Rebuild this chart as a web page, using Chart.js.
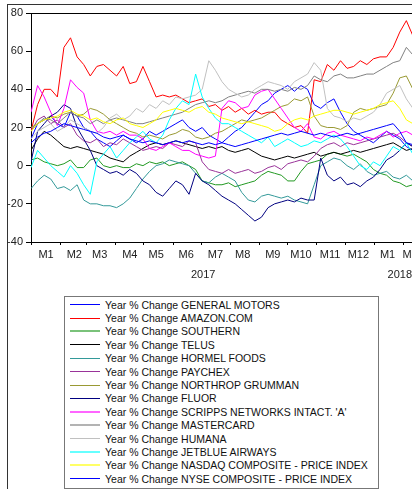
<!DOCTYPE html>
<html>
<head>
<meta charset="utf-8">
<title>Year % Change</title>
<script src="https://cdn.jsdelivr.net/npm/chart.js@4.4.0/dist/chart.umd.min.js"></script>
<style>
    html, body { margin: 0; padding: 0; background: #fff; }
    body { width: 412px; height: 489px; position: relative; overflow: hidden; font-family: "Liberation Sans", Arial, sans-serif; }
    #frame { position: absolute; left: 7px; top: 4px; width: 420px; height: 500px; border-left: 1px solid #333; border-top: 1px solid #333; }
    #chartBox { position: absolute; left: 0; top: 0; width: 412px; height: 290px; }
    #legend { position: absolute; left: 64px; top: 296px; width: 313px; height: 190px; padding-top: 1px; border: 1px solid #777; }
    .row { display: flex; align-items: center; height: 13.4px; font-size: 10.5px; color: #111; white-space: nowrap; }
    .swatch { width: 30px; height: 1px; margin: 0 5px; }
    .swatch.wide { height: 2px; opacity: 0.6; }
</style>
</head>
<body>
<div id="frame"></div>
<div id="chartBox"><canvas id="lineChart"></canvas></div>
<div id="legend"></div>

<script>
// weekly samples, day 0 = start of January 2017
const days = Array.from({ length: 59 }, (_, i) => i * 7);

const monthStarts = [0, 31, 59, 90, 120, 151, 181, 212, 243, 273, 304, 334, 365, 396];
const monthMids = [16, 46, 73, 105, 133, 165, 196, 225, 257, 287, 318, 348, 379, 403];
const monthLabels = ['M1', 'M2', 'M3', 'M4', 'M5', 'M6', 'M7', 'M8', 'M9', 'M10', 'M11', 'M12', 'M1', 'M2'];
const yearMids = [183, 392];
const yearLabels = ['2017', '2018'];

const seriesNames = [
    'Year % Change GENERAL MOTORS',
    'Year % Change AMAZON.COM',
    'Year % Change SOUTHERN',
    'Year % Change TELUS',
    'Year % Change HORMEL FOODS',
    'Year % Change PAYCHEX',
    'Year % Change NORTHROP GRUMMAN',
    'Year % Change FLUOR',
    "Year % Change SCRIPPS NETWORKS INTACT. 'A'",
    'Year % Change MASTERCARD',
    'Year % Change HUMANA',
    'Year % Change JETBLUE AIRWAYS',
    'Year % Change NASDAQ COMPOSITE - PRICE INDEX',
    'Year % Change NYSE COMPOSITE - PRICE INDEX'
];
const seriesColors = ['#0000ff', '#ff0000', '#229922', '#000000', '#339999', '#993399', '#999933',
    '#000080', '#ff00ff', '#808080', '#c0c0c0', '#00ffff', '#ffff00', '#0000ff'];

const generalMotors = [14, 22, 24, 26, 22, 20, 28, 26, 20, 18, 14, 12, 10, 13, 16, 14, 12, 14, 18, 16,
    18, 20, 22, 24, 20, 18, 20, 16, 14, 12, 15, 18, 20, 24, 28, 32, 34, 38, 40, 42,
    39, 42, 40, 32, 30, 33, 35, 28, 22, 18, 16, 14, 12, 15, 18, 16, 14, 10, 8];
const amazon = [18, 32, 40, 40, 36, 62, 67, 57, 53, 47, 52, 53, 50, 47, 52, 43, 44, 52, 44, 36,
    37, 36, 37, 35, 33, 34, 35, 31, 32, 29, 31, 28, 30, 27, 29, 27, 28, 28, 24, 22,
    20, 21, 17, 45, 44, 53, 50, 55, 51, 52, 55, 53, 56, 57, 57, 62, 70, 76, 68];
const southern = [3, 4, 2, 1, 0, 1, 3, -1, -1, 3, 4, 0, -1, 0, -1, -1, 1, 0, 2, 1,
    2, 0, 1, 2, 0, -2, -8, -9, -10, -10, -9, -11, -10, -9, -8, -5, -3, -4, -5, -8,
    -8, -3, 1, 2, 3, 6, 7, 6, 5, 6, 4, 2, -2, -4, -5, -8, -9, -11, -10];
const telus = [8, 14, 18, 16, 13, 10, 9, 10, 9, 8, 7, 6, 4, 3, 2, 5, 7, 9, 11, 12,
    11, 12, 13, 12, 11, 10, 9, 10, 9, 10, 8, 7, 8, 9, 7, 5, 4, 3, 4, 5,
    4, 5, 6, 7, 5, 6, 7, 6, 7, 8, 7, 8, 9, 10, 11, 12, 10, 8, 9];
const hormel = [-12, -8, -5, -7, -12, -11, -13, -10, -18, -20, -20, -21, -21, -22, -20, -17, -12, -7, -3, 0,
    1, 3, 2, 1, 0, -4, -8, -9, -6, -4, -6, -8, -14, -18, -19, -16, -15, -16, -17, -16,
    -18, -19, -20, -10, 0, 2, 4, 3, 0, -2, 1, -3, -5, -4, -3, -6, -7, -5, -8];
const paychex = [18, 24, 26, 22, 24, 20, 22, 16, 13, 12, 14, 10, 12, 11, 14, 12, 10, 8, 9, 10,
    9, 12, 11, 10, 13, 12, 2, -2, -3, -4, -2, -4, -3, -2, -4, -3, -1, 0, -2, 1,
    2, 3, 2, 5, 9, 11, 12, 10, 12, 11, 12, 13, 14, 15, 16, 17, 15, 12, 10];
const northrop = [20, 22, 24, 26, 25, 27, 28, 26, 27, 30, 29, 27, 24, 22, 20, 18, 17, 15, 16, 15,
    14, 16, 17, 19, 18, 15, 14, 15, 17, 18, 20, 22, 24, 23, 24, 25, 27, 29, 31, 32,
    35, 34, 36, 26, 21, 20, 20, 19, 21, 28, 30, 29, 30, 31, 32, 38, 46, 47, 40];
const fluor = [2, 18, 22, 26, 28, 32, 30, 20, 14, 8, 0, -2, -4, -3, -5, -2, -4, -8, -10, -14,
    -16, -12, -8, -10, -15, -4, -8, -10, -13, -16, -18, -20, -23, -26, -29, -27, -22, -20, -19, -18,
    -19, -17, -18, -18, 4, -5, -8, -6, -10, -9, -11, -8, -6, -2, 3, 5, 8, 12, 10];
const scripps = [28, 42, 36, 28, 21, 30, 45, 41, 38, 24, 18, 17, 18, 16, 18, 16, 16, 14, 9, 8,
    10, 12, 10, 8, 8, 6, 5, 4, 5, 30, 34, 33, 30, 31, 37, 39, 40, 35, 30, 25,
    20, 18, 22, 15, 14, 17, 18, 16, 15, 14, 13, 15, 14, 16, 18, 15, 17, 18, 16];
const mastercard = [18, 22, 25, 24, 22, 25, 28, 26, 25, 22, 24, 22, 24, 25, 24, 23, 22, 22, 23, 24,
    25, 26, 27, 28, 30, 32, 33, 34, 33, 34, 36, 37, 38, 39, 38, 40, 40, 39, 40, 39,
    41, 40, 42, 47, 45, 44, 47, 48, 46, 46, 47, 48, 48, 50, 52, 54, 55, 62, 58];
const humana = [14, 18, 20, 22, 18, 20, 24, 22, 20, 18, 17, 20, 25, 27, 24, 26, 30, 28, 32, 30,
    34, 32, 36, 35, 36, 37, 40, 55, 50, 44, 40, 38, 36, 37, 40, 42, 44, 43, 42, 40,
    44, 46, 48, 54, 50, 30, 26, 25, 23, 25, 24, 26, 28, 32, 38, 40, 42, 35, 30];
const jetblue = [-1, 8, 4, 0, -3, -6, 0, -4, -10, -15, 2, 6, 10, 4, 8, 12, 15, 18, 14, 12,
    16, 24, 30, 34, 32, 48, 36, 30, 25, 22, 22, 20, 18, 16, 14, 12, 15, 10, 12, 14,
    12, 10, 11, 13, 12, 14, 16, 14, 10, 5, 0, -2, 2, 0, 5, 10, 8, 12, 6];
const nasdaq = [18, 22, 24, 25, 26, 28, 29, 27, 26, 24, 25, 23, 22, 24, 25, 22, 21, 20, 22, 24,
    28, 29, 30, 29, 28, 30, 31, 28, 27, 25, 24, 23, 22, 23, 22, 21, 20, 18, 19, 22,
    24, 25, 24, 26, 27, 28, 29, 29, 28, 27, 28, 29, 30, 32, 33, 34, 30, 24, 22];
const nyse = [12, 15, 17, 18, 20, 22, 21, 20, 19, 18, 17, 15, 14, 15, 16, 14, 13, 12, 13, 12,
    11, 12, 13, 12, 13, 12, 11, 12, 11, 12, 11, 10, 11, 12, 13, 14, 15, 16, 17, 16,
    17, 18, 17, 16, 17, 16, 15, 16, 17, 16, 17, 18, 19, 20, 21, 22, 18, 12, 11];

const seriesValues = [generalMotors, amazon, southern, telus, hormel, paychex, northrop,
    fluor, scripps, mastercard, humana, jetblue, nasdaq, nyse];

const X_MAX = 405;
const AXIS_FONT = { family: '"Liberation Sans", Arial, sans-serif', size: 11 };
// pale colours show as thicker, softer strokes in the legend
const WIDE_SWATCH = [2, 8, 9, 11, 12];

function toPoints(values) {
    return values.map((v, i) => ({ x: days[i], y: v }));
}

function buildLegend() {
    let html = '';
    seriesNames.forEach((name, i) => {
        const cls = WIDE_SWATCH.includes(i) ? 'swatch wide' : 'swatch';
        html += `<div class="row"><span class="${cls}" style="background:${seriesColors[i]}"></span><span>${name}</span></div>`;
    });
    document.getElementById('legend').innerHTML = html;
}

function noPad(scale) {
    scale.paddingLeft = 0;
    scale.paddingRight = 0;
    scale.paddingTop = 0;
    scale.paddingBottom = 0;
}

function buildChart() {
    const datasets = seriesValues.map((values, i) => ({
        label: seriesNames[i],
        data: toPoints(values),
        borderColor: seriesColors[i],
        borderWidth: 1,
        pointRadius: 0,
        tension: 0,
        fill: false,
        order: seriesValues.length - i   // later series drawn on top
    }));

    new Chart(document.getElementById('lineChart'), {
        type: 'line',
        data: { datasets },
        options: {
            responsive: true,
            maintainAspectRatio: false,
            animation: false,
            events: [],
            layout: { padding: { top: 13, left: 0, right: 0, bottom: 0 } },
            plugins: { legend: { display: false }, tooltip: { enabled: false } },
            scales: {
                x: {
                    type: 'linear', position: 'bottom', min: 0, max: X_MAX,
                    afterBuildTicks: s => { s.ticks = monthStarts.map(v => ({ value: v })); },
                    afterFit: s => { s.height = 5; noPad(s); },
                    ticks: { display: false },
                    grid: { drawOnChartArea: false, drawTicks: true, tickLength: 3, color: '#000' },
                    border: { display: true, color: '#000' }
                },
                xm: {
                    type: 'linear', position: 'bottom', min: 0, max: X_MAX,
                    afterBuildTicks: s => { s.ticks = monthMids.map(v => ({ value: v })); },
                    afterFit: s => { s.height = 18; noPad(s); },
                    ticks: {
                        autoSkip: false, maxRotation: 0, padding: 1, color: '#222', font: AXIS_FONT,
                        callback: (v, i) => monthLabels[i]
                    },
                    grid: { display: false, drawTicks: false },
                    border: { display: false }
                },
                xy: {
                    type: 'linear', position: 'bottom', min: 0, max: X_MAX,
                    afterBuildTicks: s => { s.ticks = yearMids.map(v => ({ value: v })); },
                    afterFit: s => { s.height = 25; noPad(s); },
                    ticks: {
                        autoSkip: false, maxRotation: 0, padding: 3, color: '#222', font: AXIS_FONT,
                        callback: (v, i) => yearLabels[i]
                    },
                    grid: { display: false, drawTicks: false },
                    border: { display: false }
                },
                xtop: {
                    type: 'linear', position: 'top', min: 0, max: X_MAX,
                    afterFit: s => { s.height = 0; noPad(s); },
                    ticks: { display: false },
                    grid: { display: false, drawTicks: false },
                    border: { display: true, color: '#000' }
                },
                y: {
                    min: -40, max: 80,
                    afterFit: s => { s.width = 31; noPad(s); },
                    ticks: { stepSize: 20, padding: 3, color: '#222', font: AXIS_FONT },
                    grid: { drawOnChartArea: false, drawTicks: true, tickLength: 5, color: '#000' },
                    border: { display: true, color: '#000' }
                }
            }
        }
    });
}

document.addEventListener('DOMContentLoaded', () => {
    buildLegend();
    buildChart();
});
</script>
</body>
</html>
